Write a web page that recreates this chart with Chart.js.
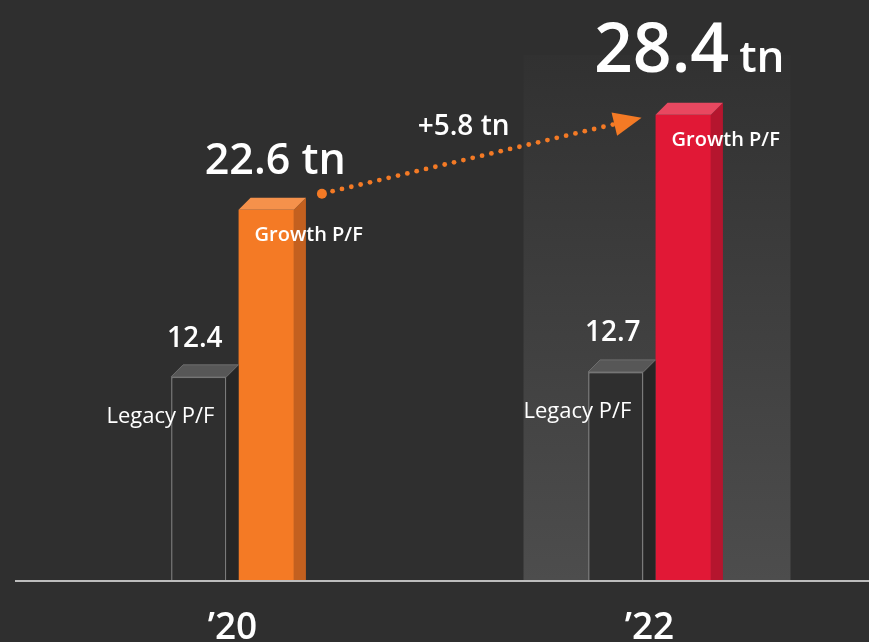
<!DOCTYPE html>
<html>
<head>
<meta charset="utf-8">
<script src="https://cdn.jsdelivr.net/npm/chart.js@4"></script>
<style>
  body { margin: 0; background: #2f2f2f; }
  #wrap { width: 869px; height: 642px; }
</style>
</head>
<body>
<div id="wrap"><canvas id="myChart"></canvas></div>
<script>
var years = ['\u201920', '\u201922'];
var legacy = [12.4, 12.7];
var growth = [22.6, 28.4];
var increase = '+5.8 tn';

var FONT = '"Open Sans", "Noto Sans", sans-serif';
var DEPTH = 12;

function box(ctx, bar, topColor, sideColor, edge) {
  var l = bar.x - bar.width / 2, r = bar.x + bar.width / 2, t = bar.y, b = bar.base, d = DEPTH;
  ctx.fillStyle = sideColor;
  ctx.beginPath();
  ctx.moveTo(r, t); ctx.lineTo(r + d, t - d); ctx.lineTo(r + d, b); ctx.lineTo(r, b);
  ctx.closePath(); ctx.fill();
  ctx.fillStyle = topColor;
  ctx.beginPath();
  ctx.moveTo(l, t); ctx.lineTo(l + d, t - d); ctx.lineTo(r + d, t - d); ctx.lineTo(r, t);
  ctx.closePath(); ctx.fill();
  if (edge) { ctx.strokeStyle = edge; ctx.lineWidth = 1; ctx.stroke(); }
}

function text(ctx, str, x, y, font, align) {
  ctx.font = font;
  ctx.textAlign = align || 'center';
  ctx.textBaseline = 'alphabetic';
  ctx.fillStyle = '#ffffff';
  ctx.fillText(str, x, y);
}

var decor = {
  id: 'decor',
  beforeDatasetsDraw: function (chart) {
    var ctx = chart.ctx;
    var x = chart.scales.x.getPixelForValue(1);
    var y0 = chart.scales.y.getPixelForValue(0);
    ctx.save();
    var g = ctx.createLinearGradient(0, 55, 0, y0);
    g.addColorStop(0, '#313131');
    g.addColorStop(1, '#4d4d4d');
    ctx.fillStyle = g;
    ctx.fillRect(x - 126, 55, 267, y0 - 55);
    ctx.strokeStyle = '#bdbdbd';
    ctx.lineWidth = 2;
    ctx.beginPath();
    ctx.moveTo(15, y0 + 1); ctx.lineTo(chart.width, y0 + 1);
    ctx.stroke();
    ctx.restore();
  },
  afterDatasetsDraw: function (chart) {
    var ctx = chart.ctx;
    var leg = chart.getDatasetMeta(0).data;
    var gro = chart.getDatasetMeta(1).data;
    ctx.save();
    box(ctx, leg[0], '#575757', '#262626', '#6e6e6e');
    box(ctx, leg[1], '#575757', '#262626', '#6e6e6e');
    box(ctx, gro[0], '#f5914b', '#c3601f');
    box(ctx, gro[1], '#e84860', '#b5152e');

    // value labels
    text(ctx, legacy[0].toFixed(1), leg[0].x - 4, leg[0].y - 30, '600 28px ' + FONT);
    text(ctx, legacy[1].toFixed(1), leg[1].x - 3, leg[1].y - 31, '600 28px ' + FONT);
    for (var i = 0; i < 2; i++) {
      var lb = leg[i], gb = gro[i];
      text(ctx, 'Legacy P/F', lb.x + lb.width / 2 - 12, lb.y + 46, '400 22px ' + FONT, 'right');
      text(ctx, 'Growth P/F', gb.x - gb.width / 2 + 16, gb.y + 31, '600 20px ' + FONT, 'left');
    }
    text(ctx, growth[0].toFixed(1) + ' tn', gro[0].x + 9, gro[0].y - 36, '600 43px ' + FONT);

    // big total for '22
    ctx.font = '600 68px ' + FONT;
    var w1 = ctx.measureText(growth[1].toFixed(1)).width;
    ctx.font = '600 44px ' + FONT;
    var w2 = ctx.measureText('tn').width;
    var sx = gro[1].x + 6 - (w1 + 10 + w2) / 2;
    var by = gro[1].y - 43;
    text(ctx, growth[1].toFixed(1), sx, by, '600 68px ' + FONT, 'left');
    text(ctx, 'tn', sx + w1 + 10, by, '600 44px ' + FONT, 'left');

    // dotted arrow
    var a = gro[0], b = gro[1];
    var x1 = a.x + a.width / 2 + 28, y1 = a.y - 16;
    var x2 = b.x - b.width / 2 - 14, y2 = b.y + 3;
    var dx = x2 - x1, dy = y2 - y1, len = Math.sqrt(dx * dx + dy * dy);
    var ux = dx / len, uy = dy / len;
    ctx.fillStyle = '#f47a25';
    ctx.beginPath(); ctx.arc(x1, y1, 5, 0, Math.PI * 2); ctx.fill();
    for (var s = 11; s < len - 22; s += 9.6) {
      ctx.beginPath(); ctx.arc(x1 + ux * s, y1 + uy * s, 2.4, 0, Math.PI * 2); ctx.fill();
    }
    var hl = 28, hw = 12;
    var bx = x2 - ux * hl, byy = y2 - uy * hl;
    ctx.beginPath();
    ctx.moveTo(x2, y2);
    ctx.lineTo(bx - uy * hw, byy + ux * hw);
    ctx.lineTo(bx + uy * hw, byy - ux * hw);
    ctx.closePath(); ctx.fill();

    text(ctx, increase, x2 - 178, y2 + 17, '600 28px ' + FONT);
    ctx.restore();
  }
};

var ctx = document.getElementById('myChart').getContext('2d');
var myChart = new Chart(ctx, {
  type: 'bar',
  data: {
    labels: years,
    datasets: [{
      label: 'Legacy P/F',
      data: legacy,
      backgroundColor: '#2f2f2f',
      borderColor: '#7a7a7a',
      borderWidth: 1.5,
      categoryPercentage: 0.3237,
      barPercentage: 0.82
    }, {
      label: 'Growth P/F',
      data: growth,
      backgroundColor: ['#f47a25', '#e11836'],
      borderWidth: 0,
      categoryPercentage: 0.3237,
      barPercentage: 0.82
    }]
  },
  options: {
    responsive: true,
    maintainAspectRatio: false,
    animation: false,
    layout: { padding: { left: 24, right: 11, top: 0, bottom: 0 } },
    plugins: {
      legend: { display: false },
      tooltip: { enabled: false }
    },
    scales: {
      x: {
        grid: { display: false, drawTicks: false },
        border: { display: false },
        afterFit: function (axis) { axis.height = 62; },
        ticks: {
          color: '#ffffff',
          padding: 30,
          font: { family: FONT, size: 37, weight: '600', lineHeight: 1 }
        }
      },
      y: { display: false, min: 0, max: 35.4 }
    }
  },
  plugins: [decor]
});
</script>
</body>
</html>
